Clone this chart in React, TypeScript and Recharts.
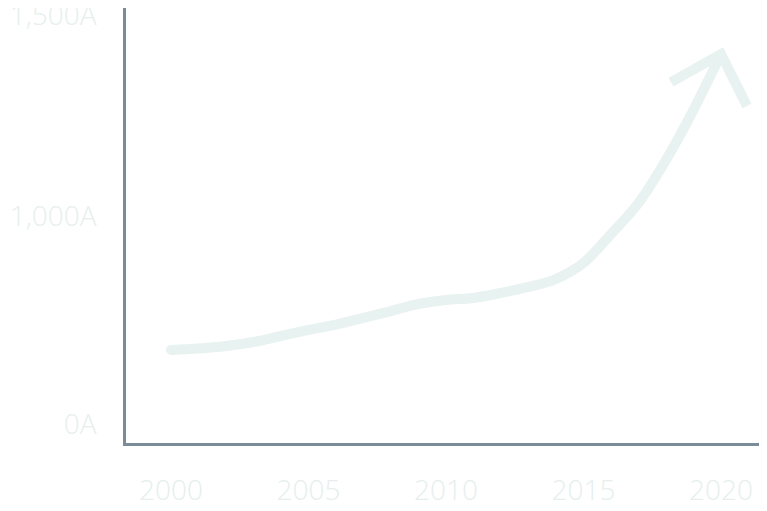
import { Line, LineChart, XAxis, YAxis } from "recharts";

const years = [
  2000, 2001, 2002, 2003, 2004, 2005, 2006, 2007, 2008, 2009, 2010, 2011,
  2012, 2013, 2014, 2015, 2016, 2017, 2018, 2019, 2020,
];
const values = [
  356, 363, 375, 394, 423, 452, 478, 510, 543, 577, 596, 606, 630, 659, 697,
  774, 913, 1062, 1269, 1510, 1778,
];
const xTicks = [2000, 2005, 2010, 2015, 2020];
// the y labels are not evenly spaced in the source, so each label sits at its own value
const yTickValues = [0, 1000, 1964];
const yTickLabels = ["0A", "1,000A", "1,500A"];

const data = years.map((year, i) => ({ year, value: values[i] }));

const LINE = "#e8f2f0";
const LABEL = "#e6efed";
const AXIS = "#7a8c98";
const FONT = "'Open Sans', 'Noto Sans', sans-serif";

const tickStyle = { fill: LABEL, fontSize: 28, fontFamily: FONT, fontWeight: 300 };

// arrow head drawn on the last point only
const ArrowDot = (props: any) => {
  const { cx, cy, index } = props;
  if (index !== data.length - 1) return <g key={`dot-${index}`} />;
  return (
    <path
      key="arrow"
      d={`M${cx - 50},${cy + 28} L${cx},${cy} L${cx + 26},${cy + 52}`}
      fill="none"
      stroke={LINE}
      strokeWidth={10}
      strokeLinejoin="miter"
      strokeLinecap="butt"
    />
  );
};

export default function App() {
  return (
    <div style={{ marginLeft: -8, marginTop: -8, width: 767, height: 511 }}>
      <LineChart
        width={767}
        height={511}
        data={data}
        margin={{ top: 0, right: 2, bottom: 0, left: 0 }}
      >
        <XAxis
          type="number"
          dataKey="year"
          domain={[2000, 2020]}
          ticks={xTicks}
          interval={0}
          padding={{ left: 46.5, right: 44 }}
          axisLine={{ stroke: AXIS, strokeWidth: 3, strokeLinecap: "square" }}
          tickLine={false}
          tick={tickStyle}
          tickMargin={30}
          height={66.5}
        />
        <YAxis
          type="number"
          domain={[0, 2038]}
          ticks={yTickValues}
          interval={0}
          tickFormatter={(v: number) => yTickLabels[yTickValues.indexOf(v)]}
          padding={{ top: 0, bottom: 20.5 }}
          axisLine={{ stroke: AXIS, strokeWidth: 3, strokeLinecap: "square" }}
          tickLine={false}
          tick={tickStyle}
          tickMargin={22}
          width={124.5}
        />
        <Line
          type="monotone"
          dataKey="value"
          stroke={LINE}
          strokeWidth={10}
          strokeLinecap="round"
          dot={ArrowDot}
          activeDot={false}
          isAnimationActive={false}
        />
      </LineChart>
    </div>
  );
}
